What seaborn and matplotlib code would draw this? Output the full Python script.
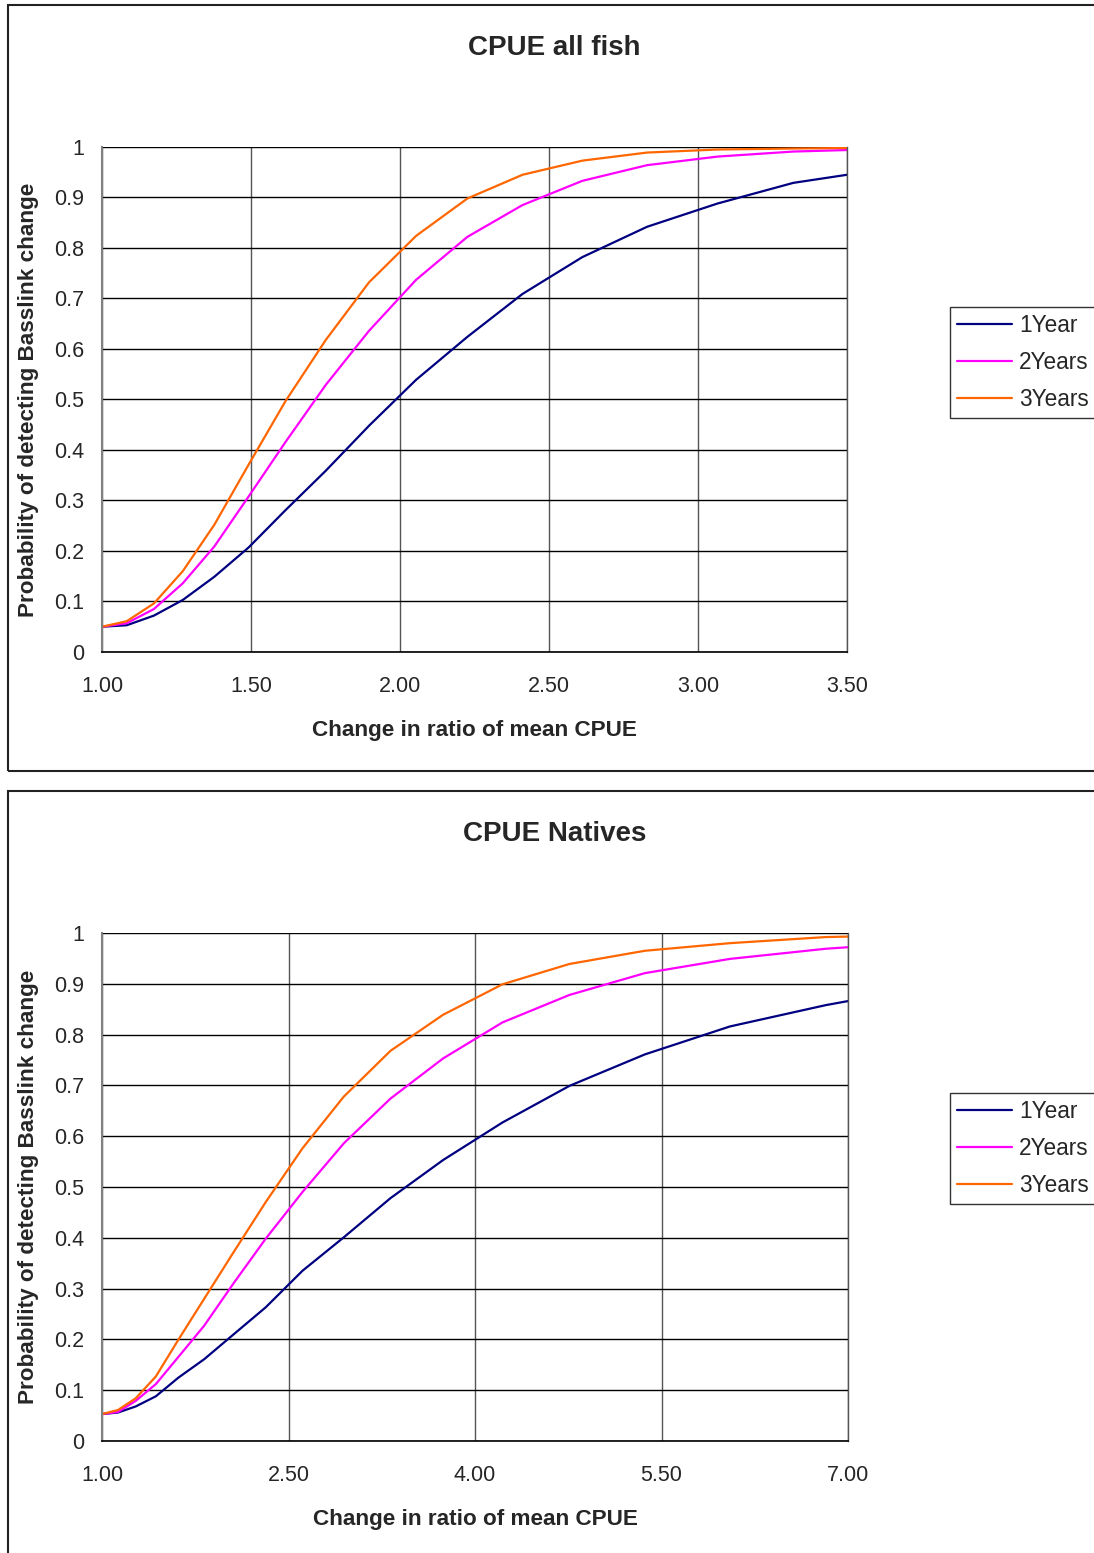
import numpy as np
import pandas as pd
import matplotlib
matplotlib.use("Agg")
import matplotlib.pyplot as plt
from matplotlib.patches import Rectangle
import seaborn as sns

sns.set_style("white")
plt.rcParams['font.family'] = ['Liberation Sans', 'DejaVu Sans']

# ---------------- data ----------------
series_names = ["1Year", "2Years", "3Years"]
colors = ["#000080", "#FF00FF", "#FF6600"]

# Chart 1: CPUE all fish
x_all = [1.000, 1.083, 1.174, 1.271, 1.377, 1.492, 1.616, 1.751, 1.896,
         2.054, 2.226, 2.411, 2.612, 2.829, 3.065, 3.320, 3.500]
y_all_1 = [0.050, 0.053, 0.072, 0.103, 0.149, 0.207, 0.281, 0.359, 0.448,
           0.539, 0.624, 0.709, 0.782, 0.842, 0.888, 0.929, 0.945]
y_all_2 = [0.050, 0.057, 0.085, 0.136, 0.209, 0.308, 0.416, 0.529, 0.636,
           0.737, 0.822, 0.885, 0.933, 0.964, 0.981, 0.991, 0.994]
y_all_3 = [0.050, 0.061, 0.096, 0.160, 0.252, 0.371, 0.497, 0.618, 0.732,
           0.824, 0.898, 0.945, 0.973, 0.989, 0.995, 0.997, 0.998]

# Chart 2: CPUE Natives
x_nat = [1.000, 1.128, 1.271, 1.433, 1.616, 1.822, 2.054, 2.316, 2.612,
         2.945, 3.320, 3.743, 4.221, 4.759, 5.366, 6.050, 6.821, 7.000]
y_nat_1 = [0.053, 0.056, 0.068, 0.088, 0.125, 0.161, 0.209, 0.263, 0.335,
           0.401, 0.478, 0.553, 0.627, 0.699, 0.761, 0.816, 0.858, 0.866]
y_nat_2 = [0.053, 0.057, 0.079, 0.112, 0.166, 0.227, 0.309, 0.398, 0.490,
           0.586, 0.674, 0.753, 0.824, 0.878, 0.921, 0.949, 0.969, 0.972]
y_nat_3 = [0.053, 0.061, 0.084, 0.127, 0.200, 0.280, 0.370, 0.470, 0.576,
           0.678, 0.768, 0.839, 0.899, 0.939, 0.965, 0.980, 0.992, 0.993]

titles = ["CPUE all fish", "CPUE Natives"]
xlabel = "Change in ratio of mean CPUE"
ylabel = "Probability of detecting Basslink change"
xticks_all = [1.0, 1.5, 2.0, 2.5, 3.0, 3.5]
xticks_nat = [1.0, 2.5, 4.0, 5.5, 7.0]
yticks = [0, 0.1, 0.2, 0.3, 0.4, 0.5, 0.6, 0.7, 0.8, 0.9, 1.0]
ytick_labels = ["0", "0.1", "0.2", "0.3", "0.4", "0.5", "0.6", "0.7", "0.8", "0.9", "1"]


def long_df(x, ys):
    frames = []
    for name, y in zip(series_names, ys):
        frames.append(pd.DataFrame({"x": x, "y": y, "series": name}))
    return pd.concat(frames, ignore_index=True)


df_all = long_df(x_all, [y_all_1, y_all_2, y_all_3])
df_nat = long_df(x_nat, [y_nat_1, y_nat_2, y_nat_3])

W, H = 1094, 1553
fig = plt.figure(figsize=(W / 100, H / 100), dpi=100)
fig.patch.set_facecolor("white")

# panel borders (Excel chart areas)
fig.patches.append(Rectangle((8 / W, 1 - 771 / H), 1.2, (771 - 5) / H,
                             transform=fig.transFigure, fill=False,
                             edgecolor="#222222", linewidth=1.5, zorder=0))
fig.patches.append(Rectangle((8 / W, -0.05), 1.2, 1 - 791 / H + 0.05,
                             transform=fig.transFigure, fill=False,
                             edgecolor="#222222", linewidth=1.5, zorder=0))


def make_axes(df, rect, xticks, xlim, title, title_y, legend_top):
    ax = fig.add_axes(rect)
    sns.lineplot(data=df, x="x", y="y", hue="series", palette=colors,
                 hue_order=series_names, ax=ax, linewidth=1.6, sort=False,
                 estimator=None)
    ax.set_xlim(*xlim)
    ax.set_ylim(0, 1)
    ax.set_xticks(xticks)
    ax.set_xticklabels([f"{t:.2f}" for t in xticks], fontsize=15.5)
    ax.set_yticks(yticks)
    ax.set_yticklabels(ytick_labels, fontsize=15.5)
    ax.grid(True, axis="y", color="black", linewidth=1.0)
    ax.grid(True, axis="x", color="#555555", linewidth=1.0)
    ax.set_axisbelow(True)
    ax.spines["top"].set_visible(False)
    ax.spines["right"].set_color("#555555")
    ax.spines["right"].set_linewidth(1.0)
    ax.spines["left"].set_color("#808080")
    ax.spines["left"].set_linewidth(1.5)
    ax.spines["bottom"].set_color("black")
    ax.spines["bottom"].set_linewidth(1.2)
    ax.tick_params(axis="x", direction="out", length=6, width=1,
                   color="#555555", pad=11)
    ax.tick_params(axis="y", direction="out", length=6, width=1,
                   color="#555555", pad=7)
    ax.set_xlabel(xlabel, fontsize=16.2, fontweight="bold", labelpad=17)
    ax.set_ylabel(ylabel, fontsize=16.2, fontweight="bold", labelpad=11)
    fig.text(0.507, 1 - title_y / H, title, fontsize=20, fontweight="bold",
             ha="center", va="center")
    handles, labels = ax.get_legend_handles_labels()
    ax.legend(handles, labels, loc="upper left",
              bbox_to_anchor=(950 / W, 1 - legend_top / H),
              bbox_transform=fig.transFigure, frameon=True, fancybox=False,
              edgecolor="black", fontsize=16.3, handlelength=2.45,
              handletextpad=0.3, labelspacing=0.62, borderpad=0.3,
              borderaxespad=0)
    ax.get_legend().get_frame().set_linewidth(1.0)
    return ax


ax1 = make_axes(df_all, [102 / W, 1 - 652 / H, 745 / W, 505 / H],
                xticks_all, (1.0, 3.5), titles[0], 48, 307)
ax2 = make_axes(df_nat, [102 / W, 1 - 1441 / H, 746 / W, 508 / H],
                xticks_nat, (1.0, 7.0), titles[1], 834, 1093)

fig.savefig("out.png", dpi=100)
